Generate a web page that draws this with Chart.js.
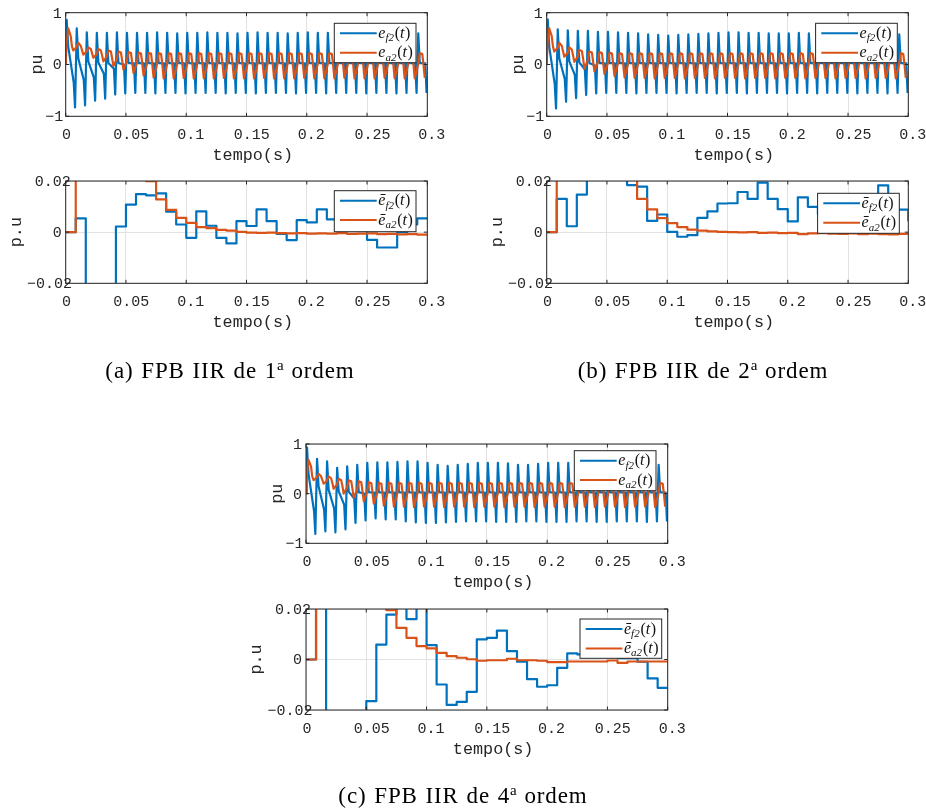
<!DOCTYPE html>
<html lang="pt">
<head>
<meta charset="UTF-8">
<title>FPB IIR - erros de tensão</title>
<script src="https://cdn.jsdelivr.net/npm/chart.js@4.4.0/dist/chart.umd.min.js"></script>
<style>
    body { margin: 0; background: #fff; }
    #figura { position: relative; width: 926px; height: 812px; overflow: hidden; }
    #figura canvas { position: absolute; left: 0; top: 0; }
    .subtitulo {
        position: absolute; width: 400px; text-align: center; white-space: nowrap;
        font-family: "Liberation Serif", "DejaVu Serif", serif; font-size: 23px;
        letter-spacing: 0.9px; word-spacing: 1px; line-height: 24px; color: #000;
    }
    .subtitulo sup { font-size: 15px; line-height: 0; vertical-align: 8px; letter-spacing: 0; }
</style>
</head>
<body>
<div id="figura">
    <canvas id="gA1" width="926" height="812"></canvas>
    <canvas id="gA2" width="926" height="812"></canvas>
    <canvas id="gB1" width="926" height="812"></canvas>
    <canvas id="gB2" width="926" height="812"></canvas>
    <canvas id="gC1" width="926" height="812"></canvas>
    <canvas id="gC2" width="926" height="812"></canvas>
    <div class="subtitulo" style="left:30px; top:359px">(a) FPB IIR de 1<sup>a</sup> ordem</div>
    <div class="subtitulo" style="left:503px; top:359px">(b) FPB IIR de 2<sup>a</sup> ordem</div>
    <div class="subtitulo" style="left:263px; top:784px">(c) FPB IIR de 4<sup>a</sup> ordem</div>
</div>

<script>
// eixos
const xTicks = [0, 0.05, 0.1, 0.15, 0.2, 0.25, 0.3];
const xRotulos = ['0', '0.05', '0.1', '0.15', '0.2', '0.25', '0.3'];
const yTicksSup = [-1, 0, 1];
const yRotulosSup = ['\u22121', '0', '1'];
const yTicksInf = [-0.02, 0, 0.02];
const yRotulosInf = ['\u22120.02', '0', '0.02'];

// periodo de amostragem (1/120 s) e fases dentro de cada ciclo
const T = 1 / 120;
const faseEf = [0.10, 0.25, 0.80, 0.93];          // pico, meio, base, vale
const faseEa = [0.08, 0.25, 0.50, 0.62, 0.75];    // sobe, pico, plato, desce, vale

// ---- (a) 1a ordem : e_f2 e e_a2 por ciclo ----
const efPicoA = [0.86,0.70,0.62,0.61,0.61,0.62,0.61,0.61,0.61,0.62,0.61,0.60,
                 0.61,0.61,0.62,0.61,0.61,0.60,0.61,0.62,0.61,0.61,0.60,0.61,
                 0.62,0.61,0.61,0.61,0.62,0.61,0.60,0.61,0.61,0.62,0.61,0.60];
const efMeioA = [0.35,0.12,0.06,0.04,0.03,0.03,0.03,0.03,0.03,0.03,0.03,0.03,
                 0.03,0.03,0.03,0.03,0.03,0.03,0.03,0.03,0.03,0.03,0.03,0.03,
                 0.03,0.03,0.03,0.03,0.03,0.03,0.03,0.03,0.03,0.03,0.03,0.03];
const efBaseA = [-0.35,-0.30,-0.25,-0.18,-0.08,0.00,0.02,0.02,0.02,0.02,0.02,0.02,
                 0.02,0.02,0.02,0.02,0.02,0.02,0.02,0.02,0.02,0.02,0.02,0.02,
                 0.02,0.02,0.02,0.02,0.02,0.02,0.02,0.02,0.02,0.02,0.02,0.02];
const efValeA = [-0.83,-0.79,-0.70,-0.66,-0.58,-0.56,-0.55,-0.55,-0.56,-0.55,-0.55,-0.56,
                 -0.55,-0.55,-0.55,-0.56,-0.55,-0.55,-0.56,-0.55,-0.55,-0.55,-0.56,-0.55,
                 -0.55,-0.56,-0.55,-0.55,-0.55,-0.56,-0.55,-0.55,-0.56,-0.55,-0.55,-0.55];
const eaSobeA = [0.40,0.33,0.25,0.20,0.15,0.10,0.06,0.03,0.01,0.00,0.00,0.00,
                 0.00,0.00,0.00,0.00,0.00,0.00,0.00,0.00,0.00,0.00,0.00,0.00,
                 0.00,0.00,0.00,0.00,0.00,0.00,0.00,0.00,0.00,0.00,0.00,0.00];
const eaPicoA = [0.70,0.42,0.33,0.30,0.27,0.25,0.24,0.23,0.22,0.22,0.22,0.22,
                 0.22,0.22,0.22,0.22,0.22,0.22,0.22,0.22,0.22,0.22,0.22,0.22,
                 0.22,0.22,0.22,0.22,0.22,0.22,0.22,0.22,0.22,0.22,0.22,0.22];
const eaPlatoA = [0.55,0.36,0.30,0.27,0.25,0.23,0.22,0.21,0.21,0.20,0.20,0.20,
                  0.20,0.20,0.20,0.20,0.20,0.20,0.20,0.20,0.20,0.20,0.20,0.20,
                  0.20,0.20,0.20,0.20,0.20,0.20,0.20,0.20,0.20,0.20,0.20,0.20];
const eaDesceA = [0.35,0.28,0.22,0.18,0.12,0.08,0.04,0.02,0.00,0.00,0.00,0.00,
                  0.00,0.00,0.00,0.00,0.00,0.00,0.00,0.00,0.00,0.00,0.00,0.00,
                  0.00,0.00,0.00,0.00,0.00,0.00,0.00,0.00,0.00,0.00,0.00,0.00];
const eaValeA = [0.27,0.19,0.13,0.06,-0.03,-0.10,-0.16,-0.21,-0.25,-0.27,-0.27,-0.26,
                 -0.27,-0.27,-0.27,-0.26,-0.27,-0.27,-0.27,-0.26,-0.27,-0.27,-0.27,-0.26,
                 -0.27,-0.27,-0.27,-0.26,-0.27,-0.27,-0.27,-0.26,-0.27,-0.27,-0.27,-0.26];

// ---- (b) 2a ordem ----
const efPicoB = [0.87,0.68,0.66,0.65,0.65,0.63,0.63,0.62,0.61,0.60,0.58,0.57,
                 0.56,0.57,0.58,0.59,0.60,0.61,0.62,0.62,0.61,0.61,0.60,0.60,
                 0.60,0.61,0.60,0.60,0.59,0.59,0.59,0.58,0.58,0.58,0.58,0.58];
const efMeioB = [0.35,0.12,0.06,0.04,0.03,0.03,0.03,0.03,0.03,0.03,0.03,0.03,
                 0.03,0.03,0.03,0.03,0.03,0.03,0.03,0.03,0.03,0.03,0.03,0.03,
                 0.03,0.03,0.03,0.03,0.03,0.03,0.03,0.03,0.03,0.03,0.03,0.03];
const efBaseB = [-0.38,-0.28,-0.20,-0.10,-0.02,0.02,0.02,0.02,0.02,0.02,0.02,0.02,
                 0.02,0.02,0.02,0.02,0.02,0.02,0.02,0.02,0.02,0.02,0.02,0.02,
                 0.02,0.02,0.02,0.02,0.02,0.02,0.02,0.02,0.02,0.02,0.02,0.02];
const efValeB = [-0.85,-0.72,-0.65,-0.59,-0.56,-0.55,-0.55,-0.55,-0.56,-0.55,-0.55,-0.55,
                 -0.56,-0.55,-0.55,-0.55,-0.56,-0.55,-0.55,-0.56,-0.55,-0.55,-0.55,-0.56,
                 -0.55,-0.55,-0.56,-0.55,-0.55,-0.55,-0.56,-0.55,-0.55,-0.56,-0.55,-0.55];
const eaSobeB = [0.40,0.32,0.22,0.15,0.08,0.04,0.02,0.01,0.00,0.00,0.00,0.00,
                 0.00,0.00,0.00,0.00,0.00,0.00,0.00,0.00,0.00,0.00,0.00,0.00,
                 0.00,0.00,0.00,0.00,0.00,0.00,0.00,0.00,0.00,0.00,0.00,0.00];
const eaPicoB = [0.70,0.42,0.33,0.28,0.25,0.24,0.23,0.22,0.22,0.22,0.22,0.22,
                 0.22,0.22,0.22,0.22,0.22,0.22,0.22,0.22,0.22,0.22,0.22,0.22,
                 0.22,0.22,0.22,0.22,0.22,0.22,0.22,0.22,0.22,0.22,0.22,0.22];
const eaPlatoB = [0.55,0.36,0.29,0.26,0.23,0.22,0.21,0.20,0.20,0.20,0.20,0.20,
                  0.20,0.20,0.20,0.20,0.20,0.20,0.20,0.20,0.20,0.20,0.20,0.20,
                  0.20,0.20,0.20,0.20,0.20,0.20,0.20,0.20,0.20,0.20,0.20,0.20];
const eaDesceB = [0.35,0.26,0.18,0.12,0.06,0.03,0.01,0.00,0.00,0.00,0.00,0.00,
                  0.00,0.00,0.00,0.00,0.00,0.00,0.00,0.00,0.00,0.00,0.00,0.00,
                  0.00,0.00,0.00,0.00,0.00,0.00,0.00,0.00,0.00,0.00,0.00,0.00];
const eaValeB = [0.25,0.15,0.05,-0.08,-0.13,-0.18,-0.22,-0.25,-0.26,-0.26,-0.27,-0.26,
                 -0.26,-0.27,-0.26,-0.26,-0.27,-0.26,-0.26,-0.27,-0.26,-0.26,-0.27,-0.26,
                 -0.26,-0.27,-0.26,-0.26,-0.27,-0.26,-0.26,-0.27,-0.26,-0.26,-0.27,-0.26];

// ---- (c) 4a ordem ----
const efPicoC = [0.93,0.70,0.65,0.52,0.55,0.58,0.62,0.63,0.63,0.64,0.65,0.65,
                 0.62,0.58,0.56,0.58,0.60,0.62,0.62,0.62,0.61,0.58,0.58,0.60,
                 0.62,0.62,0.62,0.62,0.61,0.60,0.60,0.59,0.59,0.58,0.58,0.58];
const efMeioC = [0.40,0.15,0.08,0.05,0.04,0.03,0.03,0.03,0.03,0.03,0.03,0.03,
                 0.03,0.03,0.03,0.03,0.03,0.03,0.03,0.03,0.03,0.03,0.03,0.03,
                 0.03,0.03,0.03,0.03,0.03,0.03,0.03,0.03,0.03,0.03,0.03,0.03];
const efBaseC = [-0.35,-0.32,-0.30,-0.22,-0.10,0.00,0.02,0.02,0.02,0.02,0.02,0.02,
                 0.02,0.02,0.02,0.02,0.02,0.02,0.02,0.02,0.02,0.02,0.02,0.02,
                 0.02,0.02,0.02,0.02,0.02,0.02,0.02,0.02,0.02,0.02,0.02,0.02];
const efValeC = [-0.81,-0.76,-0.78,-0.72,-0.59,-0.54,-0.50,-0.52,-0.52,-0.56,-0.58,-0.59,
                 -0.59,-0.58,-0.57,-0.56,-0.56,-0.56,-0.57,-0.57,-0.57,-0.56,-0.56,-0.57,
                 -0.57,-0.57,-0.56,-0.56,-0.57,-0.57,-0.56,-0.56,-0.56,-0.57,-0.56,-0.56];
const eaSobeC = [0.40,0.33,0.26,0.18,0.12,0.07,0.04,0.02,0.00,0.00,0.00,0.00,
                 0.00,0.00,0.00,0.00,0.00,0.00,0.00,0.00,0.00,0.00,0.00,0.00,
                 0.00,0.00,0.00,0.00,0.00,0.00,0.00,0.00,0.00,0.00,0.00,0.00];
const eaPicoC = [0.68,0.40,0.35,0.30,0.27,0.25,0.23,0.22,0.22,0.22,0.22,0.22,
                 0.22,0.22,0.22,0.22,0.22,0.22,0.22,0.22,0.22,0.22,0.22,0.22,
                 0.22,0.22,0.22,0.22,0.22,0.22,0.22,0.22,0.22,0.22,0.22,0.22];
const eaPlatoC = [0.55,0.35,0.31,0.27,0.25,0.23,0.21,0.20,0.20,0.20,0.20,0.20,
                  0.20,0.20,0.20,0.20,0.20,0.20,0.20,0.20,0.20,0.20,0.20,0.20,
                  0.20,0.20,0.20,0.20,0.20,0.20,0.20,0.20,0.20,0.20,0.20,0.20];
const eaDesceC = [0.35,0.28,0.22,0.16,0.10,0.05,0.02,0.00,0.00,0.00,0.00,0.00,
                  0.00,0.00,0.00,0.00,0.00,0.00,0.00,0.00,0.00,0.00,0.00,0.00,
                  0.00,0.00,0.00,0.00,0.00,0.00,0.00,0.00,0.00,0.00,0.00,0.00];
const eaValeC = [0.27,0.20,0.10,0.00,-0.08,-0.15,-0.20,-0.24,-0.26,-0.26,-0.27,-0.26,
                 -0.26,-0.27,-0.26,-0.26,-0.27,-0.26,-0.26,-0.27,-0.26,-0.26,-0.27,-0.26,
                 -0.26,-0.27,-0.26,-0.26,-0.27,-0.26,-0.26,-0.27,-0.26,-0.26,-0.27,-0.26];

// ---- valores médios (degraus a cada 1/120 s), k = 0..36 ----
const degAzulA = [0, 0.0054, -0.06, -0.08, -0.05, 0.0022, 0.0108, 0.0149, 0.0144, 0.0152, 0.0080, 0.0030,
                  -0.0022, 0.0081, 0.0025, -0.0022, -0.0044, 0.0043, 0.0024, 0.0089, 0.0043, -0.0007, -0.0031, 0.0047,
                  0.0038, 0.0089, 0.0050, 0.0040, 0.0020, 0.0010, -0.0030, -0.0060, -0.0060, 0.0000, 0.0030, 0.0054,
                  0.0054];
const degLaranjaA = [0, 0.09, 0.07, 0.055, 0.045, 0.035, 0.028, 0.023, 0.0199, 0.0128, 0.0087, 0.0056,
                     0.0036, 0.0020, 0.0016, 0.0009, 0.0006, 0.0001, -0.0002, -0.0003, -0.0002, -0.0004, -0.0005, -0.0004,
                     -0.0006, -0.0005, -0.0006, -0.0004, -0.0007, -0.0006, -0.0005, -0.0008, -0.0007, -0.0009, -0.0008, -0.0010,
                     -0.0010];
const degAzulB = [0, 0.0130, 0.0023, 0.0147, 0.035, 0.05, 0.04, 0.03, 0.0184, 0.0178, 0.0044, 0.0069,
                  0.0001, -0.0018, -0.0012, 0.0056, 0.0081, 0.0112, 0.0113, 0.0157, 0.0130, 0.0194, 0.0130, 0.0090,
                  0.0042, 0.0136, 0.0099, 0.0070, 0.0050, 0.0040, 0.0060, 0.0080, 0.0110, 0.0183, 0.0130, 0.0088,
                  0.0043];
const degLaranjaB = [0, 0.1, 0.08, 0.06, 0.05, 0.04, 0.032, 0.025, 0.022, 0.0130, 0.0089, 0.0055,
                     0.0035, 0.0020, 0.0010, 0.0006, 0.0003, 0.0001, 0.0000, -0.0001, 0.0000, -0.0003, -0.0002, -0.0004,
                     -0.0003, -0.0008, -0.0005, -0.0004, -0.0006, -0.0007, -0.0005, -0.0008, -0.0006, -0.0008, -0.0009, -0.0007,
                     -0.0008];
const degAzulC = [0, 0.05, -0.05, -0.07, -0.06, -0.03, -0.0165, 0.0059, 0.0178, 0.026, 0.0160, 0.024,
                  0.0057, -0.0099, -0.0180, -0.0168, -0.0128, 0.0080, 0.0086, 0.0114, 0.0033, -0.0009, -0.0078, -0.0108,
                  -0.0102, -0.0033, 0.0024, 0.0020, 0.0010, 0.0015, 0.0010, 0.0005, 0.0005, -0.0009, -0.0075, -0.0112,
                  -0.0112];
const degLaranjaC = [0, 0.1, 0.08, 0.06, 0.045, 0.035, 0.028, 0.023, 0.0195, 0.0125, 0.0086, 0.0053,
                     0.0044, 0.0026, 0.0013, 0.0007, 0.0001, -0.0005, -0.0003, -0.0003, 0.0003, -0.0003, -0.0003, -0.0005,
                     -0.0010, -0.0010, -0.0008, -0.0008, -0.0008, -0.0008, -0.0004, -0.0013, -0.0008, -0.0008, -0.0008, -0.0008,
                     -0.0008];

// legendas
const entradasSup = [{ base: 'e', sub: 'f2' }, { base: 'e', sub: 'a2' }];
const entradasInf = [{ base: '\u0113', sub: 'f2' }, { base: '\u0113', sub: 'a2' }];

// estilo
const AZUL = '#0072BD', LARANJA = '#D95319', GRADE = '#e2e2e2', EIXO = '#262626';
const FONTE_TICK = '15px "Liberation Mono", "DejaVu Sans Mono", monospace';
const FONTE_MEDIDA = '13px "Liberation Sans", Arial, sans-serif';
const FONTE_TITULO = '16.8px "Liberation Mono", "DejaVu Sans Mono", monospace';
const SERIF = '"Liberation Serif", "DejaVu Serif", serif';

function serieOscilante(fases, colunas) {
    const pontos = [{ x: 0, y: 0 }];
    colunas[0].forEach((_, k) => {
        fases.forEach((f, j) => pontos.push({ x: (k + f) * T, y: colunas[j][k] }));
    });
    return pontos;
}

function serieDegrau(valores) {
    return valores.map((v, k) => ({ x: k * T, y: v }));
}

function escreveLegenda(ctx, x, y, ent) {
    ctx.fillStyle = '#111';
    ctx.textAlign = 'left';
    ctx.textBaseline = 'alphabetic';
    ctx.font = 'italic 16px ' + SERIF;
    ctx.fillText(ent.base, x, y);
    x += ctx.measureText(ent.base).width;
    ctx.font = 'italic 11px ' + SERIF;
    ctx.fillText(ent.sub, x, y + 3.5);
    x += ctx.measureText(ent.sub).width + 0.8;
    ctx.font = '16px ' + SERIF;
    ctx.fillText('(', x, y);
    x += ctx.measureText('(').width;
    ctx.font = 'italic 16px ' + SERIF;
    ctx.fillText('t', x, y);
    x += ctx.measureText('t').width + 0.5;
    ctx.font = '16px ' + SERIF;
    ctx.fillText(')', x, y);
}

// caixa, rotulos e legenda no estilo do MATLAB
const eixoMatlab = {
    id: 'eixoMatlab',
    afterDatasetsDraw(chart, args, o) {
        const ctx = chart.ctx, a = chart.chartArea;
        const sx = chart.scales.x, sy = chart.scales.y;
        ctx.save();
        ctx.strokeStyle = EIXO;
        ctx.lineWidth = 1;
        ctx.beginPath();
        xTicks.forEach(v => {
            const p = sx.getPixelForValue(v);
            ctx.moveTo(p, a.bottom); ctx.lineTo(p, a.bottom - 3.5);
            ctx.moveTo(p, a.top); ctx.lineTo(p, a.top + 3.5);
        });
        o.yTicks.forEach(v => {
            const p = sy.getPixelForValue(v);
            ctx.moveTo(a.left, p); ctx.lineTo(a.left + 3.5, p);
            ctx.moveTo(a.right, p); ctx.lineTo(a.right - 3.5, p);
        });
        ctx.stroke();
        ctx.strokeRect(a.left, a.top, a.right - a.left, a.bottom - a.top);

        ctx.fillStyle = EIXO;
        ctx.textAlign = 'left';
        xTicks.forEach((v, i) => {
            const txt = xRotulos[i];
            ctx.font = FONTE_MEDIDA;
            const w = ctx.measureText(txt).width;
            ctx.font = FONTE_TICK;
            ctx.textBaseline = 'alphabetic';
            ctx.fillText(txt, sx.getPixelForValue(v) - w / 2, a.bottom + 22.5);
        });
        o.yTicks.forEach((v, i) => {
            const txt = o.yRotulos[i];
            ctx.font = FONTE_MEDIDA;
            const w = ctx.measureText(txt).width;
            ctx.font = FONTE_TICK;
            ctx.textBaseline = 'middle';
            ctx.fillText(txt, a.left - 5.7 - w, sy.getPixelForValue(v) + 1);
        });

        ctx.font = FONTE_TITULO;
        ctx.textAlign = 'center';
        ctx.textBaseline = 'middle';
        ctx.fillText('tempo(s)', (a.left + a.right) / 2 + 6.3, a.bottom + 39.5);
        ctx.save();
        ctx.translate(a.left - o.yTituloDx, (a.top + a.bottom) / 2);
        ctx.rotate(-Math.PI / 2);
        ctx.fillText(o.yTitulo, 0, 0);
        ctx.restore();

        // legenda
        const L = o.legenda, bw = 81.7;
        const bx = a.right - L.dx - bw, by = a.top + L.dy;
        ctx.fillStyle = '#fff';
        ctx.fillRect(bx, by, bw, L.h);
        ctx.strokeStyle = EIXO;
        ctx.lineWidth = 1;
        ctx.strokeRect(bx, by, bw, L.h);
        chart.data.datasets.forEach((ds, i) => {
            const yl = by + 10 + i * 19.4;
            ctx.strokeStyle = ds.borderColor;
            ctx.lineWidth = 2;
            ctx.beginPath();
            ctx.moveTo(bx + 5.7, yl);
            ctx.lineTo(bx + 42.4, yl);
            ctx.stroke();
            escreveLegenda(ctx, bx + 44, yl + 4.5, o.entradas[i]);
        });
        ctx.restore();
    }
};

function criaGrafico(id, cfg) {
    const serie = (label, data, cor, ordem) => ({
        label, data, borderColor: cor, backgroundColor: cor, order: ordem,
        borderWidth: 2.2, pointRadius: 0, tension: 0, clip: 0,
        borderJoinStyle: 'round', stepped: cfg.degrau ? 'before' : false
    });
    new Chart(document.getElementById(id), {
        type: 'line',
        data: {
            datasets: [
                serie('e_f2(t)', cfg.azul, AZUL, 2),
                serie('e_a2(t)', cfg.laranja, LARANJA, 1)
            ]
        },
        options: {
            responsive: false,
            animation: false,
            events: [],
            layout: {
                padding: { left: cfg.area[0], top: cfg.area[1], right: 926 - cfg.area[2], bottom: 812 - cfg.area[3] }
            },
            scales: {
                x: {
                    type: 'linear', min: 0, max: 0.3,
                    afterBuildTicks: s => { s.ticks = xTicks.map(v => ({ value: v })); },
                    afterFit: s => { s.height = 0; },
                    ticks: { display: false },
                    grid: { color: GRADE, lineWidth: 1, drawTicks: false },
                    border: { display: false }
                },
                y: {
                    type: 'linear', min: cfg.yTicks[0], max: cfg.yTicks[2],
                    afterBuildTicks: s => { s.ticks = cfg.yTicks.map(v => ({ value: v })); },
                    afterFit: s => { s.width = 0; },
                    ticks: { display: false },
                    grid: { color: GRADE, lineWidth: 1, drawTicks: false },
                    border: { display: false }
                }
            },
            plugins: {
                legend: { display: false },
                tooltip: { enabled: false },
                eixoMatlab: cfg
            }
        },
        plugins: [eixoMatlab]
    });
}

const sup = { yTicks: yTicksSup, yRotulos: yRotulosSup, yTitulo: 'pu', yTituloDx: 28.2, entradas: entradasSup };
const inf = { yTicks: yTicksInf, yRotulos: yRotulosInf, yTitulo: 'p.u', yTituloDx: 49.5, entradas: entradasInf, degrau: true };

criaGrafico('gA1', Object.assign({}, sup, {
    area: [65.7, 12.7, 427.3, 116.3], legenda: { dx: 11.3, dy: 10.6, h: 39.4 },
    azul: serieOscilante(faseEf, [efPicoA, efMeioA, efBaseA, efValeA]),
    laranja: serieOscilante(faseEa, [eaSobeA, eaPicoA, eaPlatoA, eaDesceA, eaValeA])
}));
criaGrafico('gA2', Object.assign({}, inf, {
    area: [65.7, 181, 427.3, 283.3], legenda: { dx: 11.3, dy: 9.7, h: 41 },
    azul: serieDegrau(degAzulA), laranja: serieDegrau(degLaranjaA)
}));
criaGrafico('gB1', Object.assign({}, sup, {
    area: [546.7, 12.7, 908.3, 116.3], legenda: { dx: 11, dy: 10.6, h: 39.4 },
    azul: serieOscilante(faseEf, [efPicoB, efMeioB, efBaseB, efValeB]),
    laranja: serieOscilante(faseEa, [eaSobeB, eaPicoB, eaPlatoB, eaDesceB, eaValeB])
}));
criaGrafico('gB2', Object.assign({}, inf, {
    area: [546.7, 181, 908.3, 283.3], legenda: { dx: 9, dy: 12.3, h: 40 },
    azul: serieDegrau(degAzulB), laranja: serieDegrau(degLaranjaB)
}));
criaGrafico('gC1', Object.assign({}, sup, {
    area: [306, 444, 667.7, 543.3], legenda: { dx: 11.7, dy: 6.7, h: 40 },
    azul: serieOscilante(faseEf, [efPicoC, efMeioC, efBaseC, efValeC]),
    laranja: serieOscilante(faseEa, [eaSobeC, eaPicoC, eaPlatoC, eaDesceC, eaValeC])
}));
criaGrafico('gC2', Object.assign({}, inf, {
    area: [306, 609, 667.7, 710], legenda: { dx: 6, dy: 10, h: 39.3 },
    azul: serieDegrau(degAzulC), laranja: serieDegrau(degLaranjaC)
}));
</script>
</body>
</html>
